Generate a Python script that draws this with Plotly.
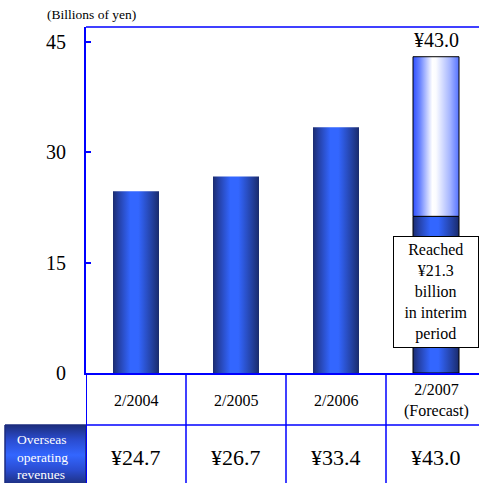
import plotly.graph_objects as go

# ---- data -------------------------------------------------------------
periods = ["2/2004", "2/2005", "2/2006", "2/2007<br>(Forecast)"]
revenues = [24.7, 26.7, 33.4, 43.0]          # billions of yen
interim_2007 = 21.3                           # first-half result of the forecast year
value_labels = ["¥24.7", "¥26.7", "¥33.4", "¥43.0"]
y_ticks = [0, 15, 30, 45]

# ---- page geometry (pixels) -------------------------------------------
W, H = 479, 483
PLOT_L, PLOT_T, PLOT_B = 86, 27, 373       # plot box edges
ROW1_B = 425                                # bottom of the period row
COL_W = 100                                 # pixel width of one category column
Y_MAX = 47.04

FONT = "Liberation Serif"
BLUE = "#0000ff"
BAR_W = 0.46

def px(x):
    return x / W

def py(y):
    return 1 - y / H

solid_scale = [[0.0, "#1b2c70"], [0.12, "#2440a4"], [0.38, "#3366ff"],
               [0.55, "#3366ff"], [0.85, "#2340a0"], [1.0, "#1a2b6c"]]
light_scale = [[0.0, "#2f50ff"], [0.15, "#6a84ff"], [0.42, "#ffffff"],
               [0.5, "#fbfcff"], [0.8, "#a6b6ff"], [1.0, "#5573ff"]]

fig = go.Figure()


def bar_shape(i, y0, y1, scale, outline):
    h = BAR_W / 2
    fig.add_trace(go.Scatter(
        x=[i - h, i + h, i + h, i - h, i - h],
        y=[y0, y0, y1, y1, y0],
        mode="lines", fill="toself",
        fillgradient=dict(type="horizontal", colorscale=scale),
        line=dict(color="black", width=1 if outline else 0),
        hoverinfo="skip", showlegend=False,
    ))


last = len(revenues) - 1
for i, v in enumerate(revenues):
    if i < last:
        bar_shape(i, 0, v, solid_scale, False)
    else:
        bar_shape(i, 0, interim_2007, solid_scale, True)
        bar_shape(i, interim_2007, v, light_scale, True)

# label cell of the value row, shaded top-to-bottom
fig.add_trace(go.Scatter(
    x=[5, 86, 86, 5, 5], y=[ROW1_B, ROW1_B, H + 2, H + 2, ROW1_B],
    xaxis="x2", yaxis="y2",
    mode="lines", fill="toself",
    fillgradient=dict(type="vertical",
                      colorscale=[[0.0, "#1d2e7c"], [0.25, "#2a4cd0"],
                                  [0.5, "#3366ff"], [0.75, "#2a4cd0"],
                                  [1.0, "#1d2e7c"]]),
    line=dict(color="#1c2c80", width=1.5),
    hoverinfo="skip", showlegend=False,
))

x_lo = -0.5
x_hi = x_lo + (W - PLOT_L) / COL_W

fig.update_layout(
    width=W, height=H,
    margin=dict(l=0, r=0, t=0, b=0, pad=0, autoexpand=False),
    paper_bgcolor="white", plot_bgcolor="rgba(0,0,0,0)",
    font=dict(family=FONT, color="black"),
    xaxis=dict(domain=[px(PLOT_L), 1], range=[x_lo, x_hi],
               showgrid=False, zeroline=False, showticklabels=False, ticks="",
               showline=True, linecolor=BLUE, linewidth=1.5, automargin=False),
    yaxis=dict(domain=[py(PLOT_B), py(PLOT_T)], range=[0, Y_MAX],
               tickvals=y_ticks, ticks="inside", ticklen=5, tickwidth=2,
               tickcolor=BLUE, tickfont=dict(size=20, family=FONT),
               ticklabelstandoff=14, automargin=False,
               showgrid=False, zeroline=False,
               showline=True, linecolor=BLUE, linewidth=2),
    xaxis2=dict(domain=[0, 1], range=[0, W], visible=False, fixedrange=True),
    yaxis2=dict(domain=[0, 1], range=[H, 0], visible=False, fixedrange=True),
)

shapes = []
# top edge of the plot box
shapes.append(dict(type="line", xref="paper", yref="paper",
                   x0=px(PLOT_L), x1=1, y0=py(PLOT_T), y1=py(PLOT_T),
                   line=dict(color=BLUE, width=1.5)))
# table rows
shapes.append(dict(type="line", xref="paper", yref="paper",
                   x0=px(PLOT_L), x1=1, y0=py(ROW1_B), y1=py(ROW1_B),
                   line=dict(color=BLUE, width=1.5)))
# table column separators
for k in range(len(periods)):
    shapes.append(dict(type="line", xref="x", yref="paper",
                       x0=k - 0.5, x1=k - 0.5, y0=py(PLOT_B), y1=0,
                       line=dict(color=BLUE, width=1.5 if k else 2)))
fig.update_layout(shapes=shapes)

CENTER = dict(xanchor="center", yanchor="middle", showarrow=False)

ann = []
ann.append(dict(text="(Billions of yen)", xref="paper", yref="paper",
                x=px(91), y=py(15), font=dict(size=13.5, family=FONT), **CENTER))
# total on top of the forecast bar
ann.append(dict(text=value_labels[last], x=last, y=revenues[last],
                xref="x", yref="y", xanchor="center", yanchor="bottom", yshift=4,
                showarrow=False, font=dict(size=20, family=FONT)))
# interim call-out
ann.append(dict(text=f"Reached<br>¥{interim_2007:.1f}<br>billion<br>in interim<br>period",
                x=last, y=11, xref="x", yref="y",
                width=78, height=104, borderpad=3,
                bgcolor="white", bordercolor="black", borderwidth=1,
                font=dict(size=16, family=FONT), **CENTER))
for i, (p, v) in enumerate(zip(periods, value_labels)):
    ann.append(dict(text=p, x=i, y=py((PLOT_B + ROW1_B) / 2 + 1),
                    xref="x", yref="paper",
                    font=dict(size=16, family=FONT), **CENTER))
    ann.append(dict(text=v, x=i, y=py(457), xref="x", yref="paper",
                    font=dict(size=22, family=FONT), **CENTER))
ann.append(dict(text="Overseas<br>operating<br>revenues", xref="paper", yref="paper",
                x=px(15), y=py(457), xanchor="left", yanchor="middle", align="left",
                showarrow=False, font=dict(size=13.5, family=FONT, color="white")))
fig.update_layout(annotations=ann)

fig.write_html("out.html")
